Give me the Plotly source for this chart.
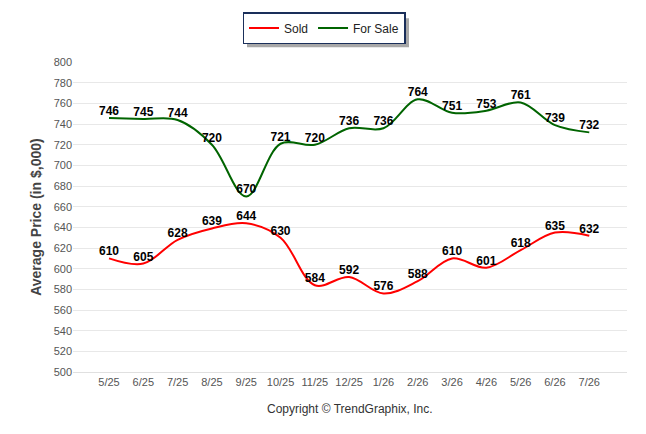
import plotly.graph_objects as go

# months on the x axis
months = ["5/25", "6/25", "7/25", "8/25", "9/25", "10/25", "11/25", "12/25",
          "1/26", "2/26", "3/26", "4/26", "5/26", "6/26", "7/26"]
# average prices in $,000
sold = [610, 605, 628, 639, 644, 630, 584, 592, 576, 588, 610, 601, 618, 635, 632]
for_sale = [746, 745, 744, 720, 670, 721, 720, 736, 736, 764, 751, 753, 761, 739, 732]

label_font = dict(family="Liberation Sans, Arial", size=12, color="black")

# plot area in page pixels (page body adds 8px offset)
L, R, T, B = 73, 627, 61, 372
W, H = R - L, B - T


def px(x):
    return (x - L) / W


def py_(y):
    return (B - y) / H


fig = go.Figure()
fig.add_trace(go.Scatter(x=months, y=sold, name="Sold", mode="lines+text",
                         line=dict(color="#ff0000", width=2, shape="spline", smoothing=1),
                         text=[f"<b>{v}</b>" for v in sold], textposition="top center",
                         textfont=label_font, cliponaxis=False))
fig.add_trace(go.Scatter(x=months, y=for_sale, name="For Sale", mode="lines+text",
                         line=dict(color="#006400", width=2, shape="spline", smoothing=1),
                         text=[f"<b>{v}</b>" for v in for_sale], textposition="top center",
                         textfont=label_font, cliponaxis=False))

# drop shadow behind the legend box
fig.add_shape(type="rect", xref="paper", yref="paper",
              x0=px(247), x1=px(409), y0=py_(46), y1=py_(17),
              fillcolor="#a8a8a8", line=dict(width=0), layer="below")

fig.add_annotation(text="Copyright © TrendGraphix, Inc.", xref="paper", yref="paper",
                   x=px(350), y=py_(409), yanchor="middle", showarrow=False,
                   font=dict(family="Liberation Sans, Arial", size=12, color="#333333"))

fig.update_layout(
    width=646, height=434,
    margin=dict(l=L - 8, r=646 + 8 - R, t=T - 8, b=434 + 8 - B),
    paper_bgcolor="white", plot_bgcolor="white",
    showlegend=True,
    legend=dict(orientation="h", xref="container", yref="container",
                x=(324 - 8) / 646, xanchor="center", y=1 - (12 - 8) / 434, yanchor="top",
                bordercolor="#1a2f5a", borderwidth=1.5, bgcolor="white",
                font=dict(family="Liberation Sans, Arial", size=12, color="#222222"),
                itemwidth=30),
    xaxis=dict(type="category", categoryorder="array", categoryarray=months,
               range=[-1.05, 15.1], showgrid=False, zeroline=False,
               showline=True, linecolor="#e0e0e0", linewidth=1,
               tickfont=dict(family="Liberation Sans Narrow, Liberation Sans", size=11, color="#555555")),
    yaxis=dict(range=[500, 800], dtick=20, showgrid=True, gridcolor="#e8e8e8",
               zeroline=False, ticks="",
               tickfont=dict(family="Liberation Sans Narrow, Liberation Sans", size=11, color="#555555"),
               title=dict(text="<b>Average Price (in $,000)</b>", standoff=8,
                          font=dict(family="Liberation Sans, Arial", size=14, color="#444444"))),
)

fig.write_html("out.html")
